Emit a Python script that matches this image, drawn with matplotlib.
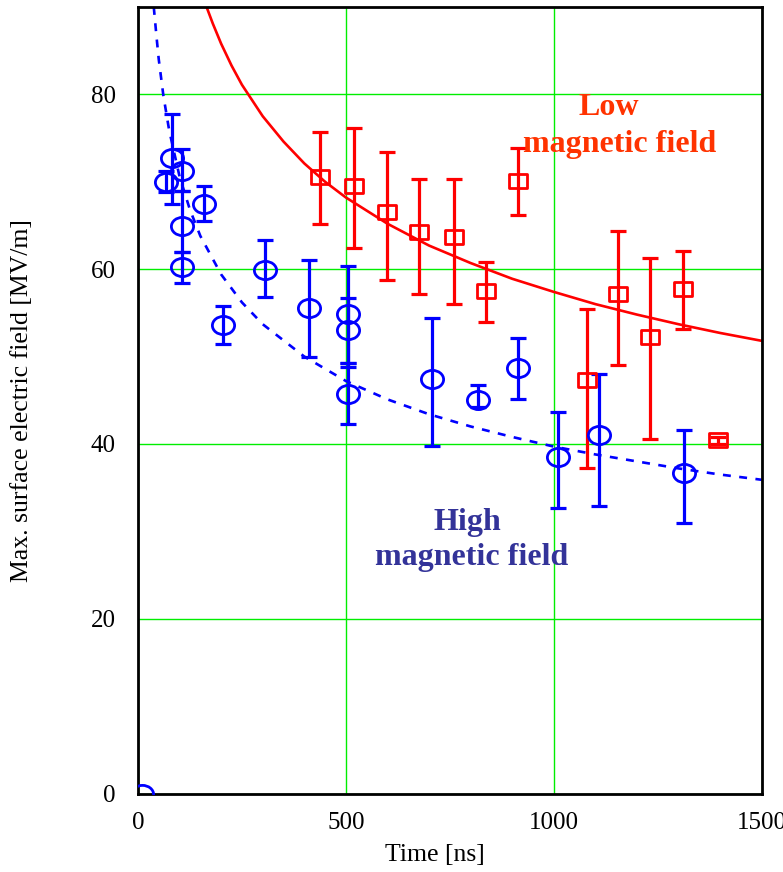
import numpy as np
import matplotlib
matplotlib.use('Agg')
import matplotlib.pyplot as plt
from matplotlib.path import Path

plt.rcParams['font.family'] = ['Liberation Serif', 'DejaVu Serif']

# High magnetic field (blue circles): time [ns], field, lower / upper end of error bar
hi_t = [67, 83, 105, 107, 107, 160, 205, 305, 412, 505, 505, 505, 708, 817, 913, 1010, 1109, 1312]
hi_E = [70.0, 72.7, 71.2, 64.9, 60.3, 67.4, 53.6, 59.9, 55.6, 54.9, 53.0, 45.7, 47.4, 45.0, 48.7, 38.5, 41.0, 36.7]
hi_lo = [68.8, 67.5, 69.0, 62.0, 58.4, 65.5, 51.4, 56.8, 49.9, 49.3, 48.8, 42.3, 39.8, 44.2, 45.2, 32.7, 32.9, 30.9]
hi_up = [71.2, 77.7, 73.8, 69.0, 62.0, 69.5, 55.8, 63.3, 61.0, 60.35, 56.7, 49.3, 54.4, 46.7, 52.1, 43.7, 48.0, 41.6]
origin_t = [10]
origin_E = [0]

# Low magnetic field (red squares)
low_t = [438, 520, 599, 676, 760, 837, 915, 1079, 1155, 1232, 1311, 1395]
low_E = [70.5, 69.5, 66.5, 64.2, 63.7, 57.5, 70.1, 47.3, 57.2, 52.2, 57.7, 40.4]
low_lo = [65.2, 62.4, 58.8, 57.2, 56.0, 53.9, 66.2, 37.3, 49.0, 40.6, 53.2, 40.0]
low_up = [75.7, 76.2, 73.4, 70.3, 70.3, 60.8, 73.9, 55.4, 64.4, 61.3, 62.1, 40.8]

# trend curves
low_curve_t = [165, 180, 200, 225, 250, 275, 300, 350, 400, 450, 500, 600, 700, 800,
               900, 1000, 1100, 1200, 1300, 1400, 1500]
low_curve_E = [90.0, 88.1, 85.8, 83.3, 81.1, 79.3, 77.5, 74.6, 72.1, 70.0, 68.2, 65.2,
               62.7, 60.7, 58.9, 57.4, 56.0, 54.8, 53.7, 52.7, 51.8]
hi_curve_t = [38, 45, 50, 61, 75, 100, 125, 150, 200, 250, 300, 400, 500, 600, 700,
              800, 900, 1000, 1100, 1200, 1300, 1400, 1500]
hi_curve_E = [90.0, 86.4, 84.0, 79.9, 75.9, 70.6, 66.8, 63.8, 59.4, 56.2, 53.7, 50.0,
              47.2, 45.1, 43.4, 42.0, 40.8, 39.7, 38.8, 38.0, 37.2, 36.5, 35.9]

xticks = [0, 500, 1000, 1500]
yticks = [0, 20, 40, 60, 80]

# slightly flattened markers like the original
circ = Path(Path.unit_circle().vertices * [1.0, 0.82], Path.unit_circle().codes)
sq_v = np.array([[-1, -0.75], [1, -0.75], [1, 0.75], [-1, 0.75], [-1, -0.75]])
rect = Path(sq_v, [Path.MOVETO, Path.LINETO, Path.LINETO, Path.LINETO, Path.CLOSEPOLY])

fig = plt.figure(figsize=(7.83, 8.72), dpi=100)
ax = fig.add_axes([0.1762, 0.09, 0.7966, 0.902])

ax.plot(low_curve_t, low_curve_E, color='red', lw=1.9, zorder=2)
ax.plot(hi_curve_t, hi_curve_E, color='blue', lw=1.9, ls=(0, (3, 3.2)), zorder=2)

hi_E_a = np.array(hi_E)
ax.errorbar(hi_t, hi_E, yerr=[hi_E_a - hi_lo, np.array(hi_up) - hi_E_a], fmt='none',
            ecolor='blue', elinewidth=2.3, capsize=6, capthick=2.3, zorder=3)
ax.plot(hi_t + origin_t, hi_E + origin_E, ls='none', marker=circ, ms=16,
        mfc='none', mec='blue', mew=2.0, zorder=4)

low_E_a = np.array(low_E)
ax.errorbar(low_t, low_E, yerr=[low_E_a - low_lo, np.array(low_up) - low_E_a], fmt='none',
            ecolor='red', elinewidth=2.3, capsize=6, capthick=2.3, zorder=3)
ax.plot(low_t, low_E, ls='none', marker=rect, ms=13.5,
        mfc='none', mec='red', mew=2.0, zorder=4)

ax.set_xlim(0, 1500)
ax.set_ylim(0, 90)
ax.set_xticks(xticks)
ax.set_yticks(yticks)
ax.grid(True, color='#00ee00', lw=1)
ax.set_axisbelow(True)
ax.tick_params(length=0, labelsize=18)
ax.tick_params(axis='y', pad=16)
ax.tick_params(axis='x', pad=13)
for s in ax.spines.values():
    s.set_linewidth(2)
    s.set_color('black')

ax.text(1132, 77.6, 'Low', color='#ff3300', fontsize=23, fontweight='bold',
        ha='center', va='baseline')
ax.text(1158, 73.4, 'magnetic field', color='#ff3300', fontsize=23, fontweight='bold',
        ha='center', va='baseline')
ax.text(793, 30.15, 'High', color='#333399', fontsize=23, fontweight='bold',
        ha='center', va='baseline')
ax.text(803, 26.1, 'magnetic field', color='#333399', fontsize=23, fontweight='bold',
        ha='center', va='baseline')

fig.text(435 / 783, 1 - 855 / 872, 'Time [ns]', fontsize=18.5, ha='center', va='center')
fig.text(22 / 783, 1 - 401 / 872, 'Max. surface electric field [MV/m]', fontsize=18.5,
         rotation=90, ha='center', va='center')

fig.savefig('out.png', dpi=100)
